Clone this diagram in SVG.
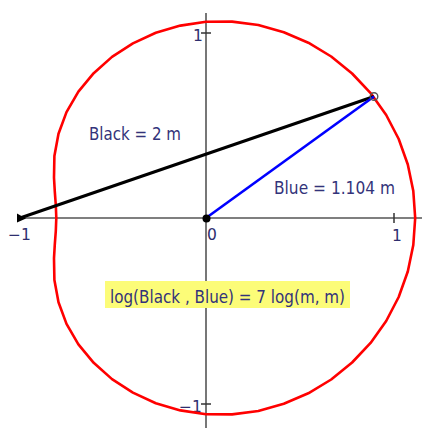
<svg xmlns="http://www.w3.org/2000/svg" width="422" height="428" viewBox="0 0 422 428">
<style>
.axis{stroke:#555;stroke-width:1.6;fill:none}
.tick{stroke:#333;stroke-width:1.5}
.lbl{font-family:"DejaVu Sans","Liberation Sans",sans-serif;font-size:15.5px;fill:#2e2e6e}
.txt{font-family:"DejaVu Sans","Liberation Sans",sans-serif;font-size:17px;fill:#33337a}
</style>
<rect width="422" height="428" fill="#fff"/>
<g id="axes">
<line class="axis" x1="18" y1="218" x2="422" y2="218"/>
<line class="axis" x1="206" y1="13" x2="206" y2="428"/>
<line class="tick" x1="201" y1="33" x2="211" y2="33"/>
<line class="tick" x1="201" y1="404" x2="211" y2="404"/>
<line class="tick" x1="394" y1="213" x2="394" y2="223"/>
<text class="lbl" x="193" y="41">1</text>
<text class="lbl" x="179" y="412">−1</text>
<text class="lbl" x="8" y="240">−1</text>
<text class="lbl" x="207" y="240">0</text>
<text class="lbl" x="392" y="241">1</text>
</g>
<g id="curve">
<path fill="none" stroke="#ff0000" stroke-width="2.6" stroke-linejoin="round" d="M415.2,218 L413.3,191 L407.8,164.5 L398.7,139 L386.2,115 L370.6,93.1 L352.1,73.5 L331.2,56.5 L308.3,42.7 L283.8,32.2 L258.3,25 L232.1,21.6 L206,21.8 L180.4,25.6 L155.8,32.8 L132.9,43.4 L112,56.9 L93.7,73.2 L78.4,91.7 L66.5,112.1 L58.5,133.7 L54.4,155.9 L54,177.7 L54.8,191.6 L55.8,205 L56.3,218 L55.8,231 L54.8,244.4 L54,258.3 L54.4,280.1 L58.5,302.3 L66.5,323.9 L78.4,344.3 L93.7,362.8 L112,379.1 L132.9,392.6 L155.8,403.2 L180.4,410.4 L206,414.2 L232.1,414.4 L258.3,411 L283.8,403.8 L308.3,393.3 L331.2,379.5 L352.1,362.5 L370.6,342.9 L386.2,321 L398.7,297 L407.8,271.5 L413.3,245 Z"/>
</g>
<g id="connectors">
<line x1="20" y1="218" x2="374" y2="96.5" stroke="#000" stroke-width="3"/>
<line x1="206" y1="218" x2="374" y2="96.5" stroke="#0000ff" stroke-width="2.6"/>
</g>
<g id="pointA">
<polygon points="17,213.5 17,222.5 26,218.5" fill="#000"/>
</g>
<g id="pointO">
<circle cx="206.5" cy="218.5" r="4" fill="#000"/>
</g>
<g id="pointP">
<circle cx="374" cy="96.5" r="3.8" fill="none" stroke="#555" stroke-width="1.4"/>
</g>
<g id="labelBlack">
<text class="txt" x="89" y="140" textLength="92" lengthAdjust="spacingAndGlyphs">Black = 2 m</text>
</g>
<g id="labelBlue">
<text class="txt" x="274" y="194" textLength="121" lengthAdjust="spacingAndGlyphs">Blue = 1.104 m</text>
</g>
<g id="equation">
<rect x="105" y="281" width="245" height="27" fill="#fcfc78"/>
<text class="txt" x="110" y="303" textLength="235" lengthAdjust="spacingAndGlyphs">log(Black , Blue) = 7 log(m, m)</text>
</g>
</svg>
